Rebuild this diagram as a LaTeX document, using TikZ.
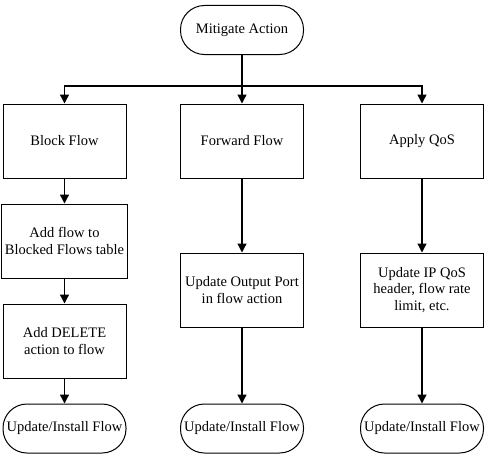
\documentclass[tikz,border=0pt]{standalone}
\usepackage{fontspec}
\setmainfont{Liberation Serif}
\usepackage{tikz}
\usetikzlibrary{arrows.meta, positioning}
\tikzstyle{startstop} = [rectangle, rounded corners=24pt, minimum width=123pt, minimum height=49pt, text centered, draw=black, line width=1pt]
\tikzstyle{process} = [rectangle, minimum width=123pt, minimum height=74pt, align=center, draw=black, line width=1pt]
\tikzstyle{arrow} = [line width=1.3pt, -{Triangle[length=9pt,width=9pt]}]

\begin{document}
\begin{tikzpicture}[x=1pt, y=-1pt, font=\fontsize{14.5}{16.7}\selectfont, node distance=25pt]
    \useasboundingbox (0,0) rectangle (494,460);
    \node (start) [startstop] at (242,30) {Mitigate Action};
    \coordinate (split) at (242,86);
    \node (block) [process] at (64.5,141) {Block Flow};
    \node (fwd) [process] at (242,141) {Forward Flow};
    \node (qos) [process] at (422,141) {Apply QoS};
    \draw [line width=1.3pt] (start) -- (split);
    \draw [arrow] (split) -| (block);
    \draw [arrow] (split) -- (fwd);
    \draw [arrow] (split) -| (qos);
    % block branch
    \node (addflow) [process, below=of block] {Add flow to\\Blocked Flows table};
    \draw [arrow] (block) -- (addflow);
    \node (adddel) [process, below=of addflow] {Add DELETE\\action to flow};
    \draw [arrow] (addflow) -- (adddel);
    \node (end1) [startstop, below=of adddel] {Update/Install Flow};
    \draw [arrow] (adddel) -- (end1);
    % forward branch
    \node (upport) [process, below=74pt of fwd] {Update Output Port\\in flow action};
    \draw [arrow] (fwd) -- (upport);
    \node (end2) [startstop] at (fwd |- end1) {Update/Install Flow};
    \draw [arrow] (upport) -- (end2);
    % qos branch
    \node (upqos) [process, below=74pt of qos] {Update IP QoS\\header, flow rate\\limit, etc.};
    \draw [arrow] (qos) -- (upqos);
    \node (end3) [startstop] at (qos |- end1) {Update/Install Flow};
    \draw [arrow] (upqos) -- (end3);
\end{tikzpicture}
\end{document}
